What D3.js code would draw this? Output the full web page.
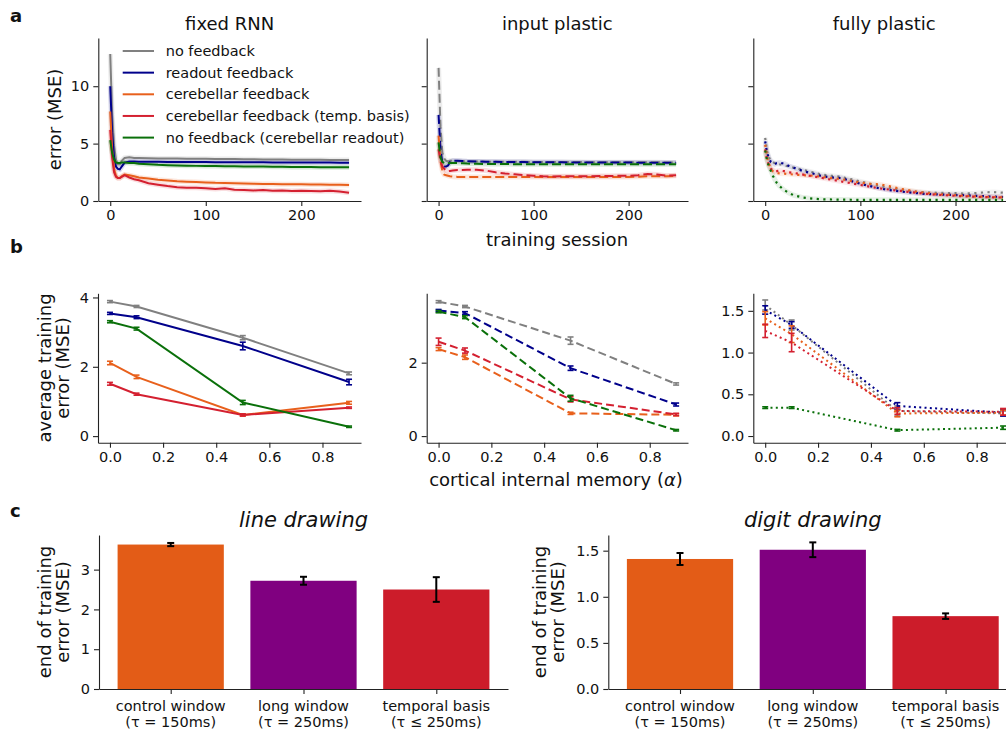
<!DOCTYPE html>
<html>
<head>
<meta charset="utf-8">
<script src="https://cdn.jsdelivr.net/npm/d3@7"></script>
<style>
  body { margin: 0; background: #fff; }
  text { font-family: 'DejaVu Sans', sans-serif; fill: #111; }
</style>
</head>
<body>
<svg id="fig" width="1006" height="732"></svg>
<script>
// ---- data ----
const seriesNames = ['no feedback', 'readout feedback', 'cerebellar feedback',
  'cerebellar feedback (temp. basis)', 'no feedback (cerebellar readout)'];
const seriesColors = ['#808080', '#00008b', '#e8601c', '#d42030', '#0a700a'];

// panel a: error over training sessions
const sessions = [0, 2, 4, 6, 8, 10, 12, 15, 20, 25, 30, 40, 50, 60, 70, 80, 90, 100, 110, 120,
  130, 140, 150, 160, 170, 180, 190, 200, 210, 220, 230, 240, 250];

const fixedNoFb = [12.8, 7.5, 4.8, 3.6, 3.2, 3.2, 3.5, 3.75, 3.8, 3.75, 3.75, 3.72, 3.7, 3.7, 3.7, 3.68, 3.68,
  3.67, 3.66, 3.65, 3.65, 3.64, 3.63, 3.62, 3.62, 3.61, 3.6, 3.6, 3.6, 3.59, 3.58, 3.58, 3.57];
const fixedReadout = [10.0, 6.0, 3.8, 3.0, 2.8, 2.75, 3.0, 3.35, 3.45, 3.45, 3.43, 3.42, 3.41, 3.4, 3.4, 3.4, 3.39,
  3.39, 3.38, 3.38, 3.38, 3.37, 3.37, 3.37, 3.36, 3.36, 3.36, 3.35, 3.35, 3.35, 3.35, 3.34, 3.34];
const fixedCb = [7.8, 4.5, 2.8, 2.2, 2.0, 2.0, 2.15, 2.3, 2.25, 2.15, 2.05, 1.95, 1.85, 1.78, 1.72, 1.68, 1.65,
  1.62, 1.58, 1.56, 1.54, 1.52, 1.5, 1.49, 1.48, 1.47, 1.46, 1.45, 1.44, 1.43, 1.42, 1.41, 1.4];
const fixedCbTemp = [6.2, 3.8, 2.5, 2.1, 2.0, 2.0, 2.1, 2.25, 2.05, 1.9, 1.8, 1.55, 1.42, 1.3, 1.2, 1.15, 1.15,
  1.12, 1.05, 1.1, 0.98, 0.95, 0.92, 0.95, 0.9, 0.92, 0.88, 0.9, 0.88, 0.85, 0.9, 0.82, 0.72];
const fixedNoFbCbRead = [5.3, 4.2, 3.6, 3.35, 3.3, 3.3, 3.35, 3.35, 3.32, 3.3, 3.25, 3.2, 3.15, 3.12, 3.1, 3.08, 3.06,
  3.05, 3.04, 3.03, 3.02, 3.01, 3.0, 3.0, 2.99, 2.98, 2.97, 2.96, 2.96, 2.95, 2.95, 2.94, 2.94];

const inputNoFb = [11.6, 6.5, 4.2, 3.7, 3.5, 3.45, 3.5, 3.5, 3.48, 3.46, 3.45, 3.44, 3.43, 3.42, 3.42, 3.41, 3.41,
  3.4, 3.4, 3.4, 3.39, 3.39, 3.39, 3.38, 3.38, 3.38, 3.38, 3.37, 3.37, 3.37, 3.37, 3.36, 3.36];
const inputReadout = [7.5, 4.5, 3.3, 3.0, 3.0, 3.1, 3.4, 3.5, 3.5, 3.48, 3.46, 3.44, 3.42, 3.41, 3.4, 3.4, 3.39,
  3.38, 3.38, 3.37, 3.37, 3.36, 3.36, 3.36, 3.35, 3.35, 3.35, 3.35, 3.34, 3.34, 3.34, 3.34, 3.34];
const inputCb = [5.7, 3.5, 2.6, 2.3, 2.25, 2.2, 2.15, 2.12, 2.1, 2.1, 2.1, 2.1, 2.1, 2.1, 2.1, 2.1, 2.1,
  2.1, 2.1, 2.1, 2.1, 2.1, 2.1, 2.1, 2.1, 2.1, 2.1, 2.1, 2.12, 2.15, 2.15, 2.15, 2.2];
const inputCbTemp = [4.5, 3.5, 3.0, 2.8, 2.65, 2.6, 2.62, 2.65, 2.7, 2.7, 2.72, 2.72, 2.65, 2.5, 2.4, 2.32, 2.25,
  2.2, 2.15, 2.13, 2.15, 2.15, 2.15, 2.15, 2.17, 2.18, 2.2, 2.2, 2.25, 2.35, 2.3, 2.2, 2.25];
const inputNoFbCbRead = [5.1, 3.8, 3.4, 3.3, 3.3, 3.3, 3.32, 3.32, 3.3, 3.28, 3.26, 3.24, 3.23, 3.22, 3.22, 3.21, 3.21,
  3.2, 3.2, 3.2, 3.2, 3.2, 3.2, 3.2, 3.2, 3.2, 3.2, 3.2, 3.2, 3.2, 3.2, 3.2, 3.2];

const fullNoFb = [5.5, 4.3, 3.8, 3.5, 3.4, 3.3, 3.25, 3.2, 3.1, 3.0, 2.9, 2.7, 2.5, 2.3, 2.2, 2.1, 1.9,
  1.7, 1.5, 1.3, 1.15, 1.0, 0.9, 0.8, 0.75, 0.72, 0.7, 0.68, 0.65, 0.68, 0.75, 0.78, 0.72];
const fullReadout = [5.2, 4.2, 3.7, 3.4, 3.3, 3.2, 3.3, 3.35, 3.25, 3.05, 2.9, 2.6, 2.4, 2.15, 2.05, 2.0, 1.75,
  1.5, 1.3, 1.1, 0.95, 0.85, 0.75, 0.68, 0.6, 0.58, 0.55, 0.52, 0.5, 0.45, 0.42, 0.38, 0.35];
const fullCb = [4.9, 3.8, 3.2, 2.8, 2.6, 2.5, 2.45, 2.4, 2.38, 2.35, 2.3, 2.25, 2.2, 2.1, 2.0, 1.9, 1.75,
  1.6, 1.5, 1.45, 1.3, 1.1, 0.95, 0.8, 0.7, 0.6, 0.55, 0.5, 0.45, 0.4, 0.38, 0.35, 0.32];
const fullCbTemp = [4.5, 3.6, 3.1, 2.8, 2.7, 2.6, 2.6, 2.65, 2.6, 2.5, 2.45, 2.3, 2.15, 2.0, 1.85, 1.7, 1.55,
  1.4, 1.25, 1.1, 1.0, 0.9, 0.8, 0.7, 0.62, 0.55, 0.5, 0.45, 0.4, 0.38, 0.35, 0.32, 0.3];
const fullNoFbCbRead = [4.4, 3.5, 3.0, 2.6, 2.2, 1.9, 1.6, 1.3, 0.95, 0.7, 0.5, 0.3, 0.2, 0.15, 0.13, 0.12, 0.11,
  0.1, 0.1, 0.1, 0.1, 0.1, 0.1, 0.1, 0.1, 0.1, 0.1, 0.1, 0.1, 0.1, 0.1, 0.1, 0.1];

// panel b: average training error vs cortical internal memory
const alphas = [0, 0.1, 0.5, 0.9];
const fixedAvg = [[3.88, 3.74, 2.84, 1.81], [3.54, 3.43, 2.6, 1.56], [2.11, 1.71, 0.61, 0.96],
  [1.51, 1.21, 0.61, 0.82], [3.3, 3.1, 0.97, 0.27]];
const fixedAvgErr = [[0.03, 0.03, 0.06, 0.04], [0.03, 0.04, 0.11, 0.08], [0.05, 0.05, 0.03, 0.04],
  [0.04, 0.03, 0.03, 0.02], [0.03, 0.04, 0.06, 0.02]];
const inputAvg = [[3.66, 3.53, 2.6, 1.42], [3.42, 3.35, 1.85, 0.86], [2.37, 2.15, 0.62, 0.58],
  [2.57, 2.33, 1.0, 0.59], [3.39, 3.24, 1.03, 0.16]];
const inputAvgErr = [[0.03, 0.03, 0.1, 0.03], [0.03, 0.04, 0.06, 0.04], [0.04, 0.06, 0.03, 0.03],
  [0.1, 0.07, 0.07, 0.03], [0.03, 0.04, 0.08, 0.02]];
const fullAvg = [[1.57, 1.33, 0.3, 0.27], [1.51, 1.33, 0.36, 0.28], [1.41, 1.22, 0.27, 0.28],
  [1.26, 1.12, 0.3, 0.29], [0.34, 0.34, 0.07, 0.1]];
const fullAvgErr = [[0.06, 0.06, 0.06, 0.03], [0.05, 0.04, 0.04, 0.04], [0.08, 0.1, 0.04, 0.03],
  [0.08, 0.11, 0.04, 0.04], [0.01, 0.01, 0.01, 0.02]];

// panel c: end of training error
const barNames = ['control window', 'long window', 'temporal basis'];
const barTaus = ['(τ = 150ms)', '(τ = 250ms)', '(τ ≤ 250ms)'];
const barColors = ['#e35c17', '#800080', '#cc1c2a'];
const lineDrawing = [3.63, 2.72, 2.5];
const lineDrawingErr = [0.04, 0.1, 0.31];
const digitDrawing = [1.41, 1.51, 0.79];
const digitDrawingErr = [0.065, 0.08, 0.03];

// ---- drawing ----
const svg = d3.select('#fig');
const tickFont = '14.5px';
const labelFont = '18px';

function drawAxes(x, y, xTicks, yTicks, xFmt, yFmt, yLabels = true) {
  const gx = svg.append('g')
    .attr('transform', `translate(0,${y.range()[0]})`)
    .call(d3.axisBottom(x).tickValues(xTicks).tickFormat(xFmt).tickSize(5).tickPadding(4).tickSizeOuter(0));
  const gy = svg.append('g')
    .attr('transform', `translate(${x.range()[0]},0)`)
    .call(d3.axisLeft(y).tickValues(yTicks).tickFormat(yLabels ? yFmt : '').tickSize(5).tickPadding(4).tickSizeOuter(0));
  [gx, gy].forEach((g) => {
    g.attr('font-family', 'DejaVu Sans').attr('font-size', tickFont);
    g.selectAll('path, line').attr('stroke', '#222').attr('stroke-width', 1.1);
    g.selectAll('text').attr('fill', '#111');
  });
}

// panel a
const aSeries = [
  [fixedNoFb, fixedReadout, fixedCb, fixedCbTemp, fixedNoFbCbRead],
  [inputNoFb, inputReadout, inputCb, inputCbTemp, inputNoFbCbRead],
  [fullNoFb, fullReadout, fullCb, fullCbTemp, fullNoFbCbRead],
];
const aTitles = ['fixed RNN', 'input plastic', 'fully plastic'];
const aRanges = [[98.3, 361], [426.7, 688], [753.3, 1015]];
const dashes = [null, '9,4', '2.2,4.4'];
const ya = d3.scaleLinear().domain([0, 14.2]).range([201, 38]);

aSeries.forEach((group, p) => {
  const x = d3.scaleLinear().domain([-12.5, 262.5]).range(aRanges[p]);
  drawAxes(x, ya, [0, 100, 200], [0, 5, 10], d3.format('d'), d3.format('d'), p === 0);
  const line = d3.line().x((d, i) => x(sessions[i])).y((d) => ya(d));
  // light band under each curve
  group.forEach((vals, s) => {
    svg.append('path').datum(vals)
      .attr('d', line)
      .attr('fill', 'none')
      .attr('stroke', seriesColors[s])
      .attr('stroke-opacity', p === 2 ? 0.1 : 0.15)
      .attr('stroke-width', 5);
  });
  group.forEach((vals, s) => {
    svg.append('path').datum(vals)
      .attr('d', line)
      .attr('fill', 'none')
      .attr('stroke', seriesColors[s])
      .attr('stroke-width', p === 2 ? 2.2 : 2)
      .attr('stroke-dasharray', dashes[p]);
  });
  svg.append('text')
    .attr('x', (aRanges[p][0] + aRanges[p][1]) / 2)
    .attr('y', 30)
    .attr('text-anchor', 'middle')
    .attr('font-size', labelFont)
    .text(aTitles[p]);
});

svg.append('text')
  .attr('transform', 'translate(61,119.5) rotate(-90)')
  .attr('text-anchor', 'middle')
  .attr('font-size', labelFont)
  .text('error (MSE)');
svg.append('text')
  .attr('x', 557).attr('y', 246)
  .attr('text-anchor', 'middle')
  .attr('font-size', labelFont)
  .text('training session');

// legend
const legend = svg.append('g');
seriesNames.forEach((name, i) => {
  const yy = 51 + i * 21.65;
  legend.append('line')
    .attr('x1', 122.7).attr('x2', 154)
    .attr('y1', yy).attr('y2', yy)
    .attr('stroke', seriesColors[i])
    .attr('stroke-width', 2);
  legend.append('text')
    .attr('x', 165.7).attr('y', yy)
    .attr('dy', '0.35em')
    .attr('font-size', tickFont)
    .text(name);
});

// panel b
const bData = [[fixedAvg, fixedAvgErr], [inputAvg, inputAvgErr], [fullAvg, fullAvgErr]];
const bYDomains = [[-0.19, 4.12], [-0.18, 3.89], [-0.08, 1.71]];
const bYTicks = [[0, 2, 4], [0, 2], [0, 0.5, 1, 1.5]];
const bYFmt = [d3.format('d'), d3.format('d'), d3.format('.1f')];
const bRanges = [[98, 361], [426.7, 688], [753.3, 1015]];
const bDashes = [null, '8,4', '2,3.3'];

bData.forEach(([avg, err], p) => {
  const x = d3.scaleLinear().domain([-0.045, 0.945]).range(bRanges[p]);
  const y = d3.scaleLinear().domain(bYDomains[p]).range([442.7, 293.3]);
  drawAxes(x, y, [0, 0.2, 0.4, 0.6, 0.8], bYTicks[p], d3.format('.1f'), bYFmt[p]);
  const line = d3.line().x((d, i) => x(alphas[i])).y((d) => y(d));
  avg.forEach((vals, s) => {
    svg.append('path').datum(vals)
      .attr('d', line)
      .attr('fill', 'none')
      .attr('stroke', seriesColors[s])
      .attr('stroke-width', 2)
      .attr('stroke-dasharray', bDashes[p]);
    const eb = svg.append('g').attr('stroke', seriesColors[s]).attr('stroke-width', 1.6);
    vals.forEach((v, i) => {
      const cx = x(alphas[i]);
      const lo = y(v - err[s][i]);
      const hi = y(v + err[s][i]);
      eb.append('line').attr('x1', cx).attr('x2', cx).attr('y1', lo).attr('y2', hi);
      eb.append('line').attr('x1', cx - 3).attr('x2', cx + 3).attr('y1', lo).attr('y2', lo);
      eb.append('line').attr('x1', cx - 3).attr('x2', cx + 3).attr('y1', hi).attr('y2', hi);
    });
  });
});

const bLab = svg.append('text')
  .attr('transform', 'translate(0,368) rotate(-90)')
  .attr('text-anchor', 'middle')
  .attr('font-size', labelFont);
bLab.append('tspan').attr('x', 0).attr('y', 51).text('average training');
bLab.append('tspan').attr('x', 0).attr('y', 69).text('error (MSE)');

const alphaLab = svg.append('text')
  .attr('x', 556).attr('y', 486)
  .attr('text-anchor', 'middle')
  .attr('font-size', labelFont);
alphaLab.append('tspan').text('cortical internal memory (');
alphaLab.append('tspan').attr('font-style', 'italic').text('α');
alphaLab.append('tspan').text(')');

// panel c
const cPanels = [
  { vals: lineDrawing, err: lineDrawingErr, title: 'line drawing', range: [99, 508], ymax: 3.87,
    ticks: [0, 1, 2, 3], fmt: d3.format('d'), labX: 0 },
  { vals: digitDrawing, err: digitDrawingErr, title: 'digit drawing', range: [608.3, 1017.3], ymax: 1.67,
    ticks: [0, 0.5, 1, 1.5], fmt: d3.format('.1f'), labX: 495 },
];

cPanels.forEach((c) => {
  const x = d3.scaleLinear().domain([-0.54, 2.54]).range(c.range);
  const y = d3.scaleLinear().domain([0, c.ymax]).range([689, 535]);
  const unit = x(1) - x(0);
  svg.append('g').selectAll('rect')
    .data(c.vals)
    .enter()
    .append('rect')
    .attr('x', (d, i) => x(i - 0.4))
    .attr('width', unit * 0.8)
    .attr('y', (d) => y(d))
    .attr('height', (d) => y(0) - y(d))
    .attr('fill', (d, i) => barColors[i]);
  drawAxes(x, y, [0, 1, 2], c.ticks, () => '', c.fmt);
  // two-line category labels
  barNames.forEach((name, i) => {
    const t = svg.append('text')
      .attr('text-anchor', 'middle')
      .attr('font-size', tickFont);
    t.append('tspan').attr('x', x(i)).attr('y', 711).text(name);
    t.append('tspan').attr('x', x(i)).attr('y', 727).text(barTaus[i]);
  });
  const eb = svg.append('g').attr('stroke', '#000').attr('stroke-width', 2);
  c.vals.forEach((v, i) => {
    const cx = x(i);
    const lo = y(v - c.err[i]);
    const hi = y(v + c.err[i]);
    eb.append('line').attr('x1', cx).attr('x2', cx).attr('y1', lo).attr('y2', hi);
    eb.append('line').attr('x1', cx - 3.5).attr('x2', cx + 3.5).attr('y1', lo).attr('y2', lo);
    eb.append('line').attr('x1', cx - 3.5).attr('x2', cx + 3.5).attr('y1', hi).attr('y2', hi);
  });
  svg.append('text')
    .attr('x', (c.range[0] + c.range[1]) / 2)
    .attr('y', 527)
    .attr('text-anchor', 'middle')
    .attr('font-size', '21px')
    .attr('font-style', 'italic')
    .text(c.title);
  const lab = svg.append('text')
    .attr('transform', `translate(0,612) rotate(-90)`)
    .attr('text-anchor', 'middle')
    .attr('font-size', labelFont);
  lab.append('tspan').attr('x', 0).attr('y', c.labX + 51).text('end of training');
  lab.append('tspan').attr('x', 0).attr('y', c.labX + 69).text('error (MSE)');
});

// panel letters
[['a', 22], ['b', 253], ['c', 517]].forEach(([l, yy]) => {
  svg.append('text')
    .attr('x', 10).attr('y', yy)
    .attr('font-size', '18px')
    .attr('font-weight', 'bold')
    .text(l);
});
</script>
</body>
</html>
